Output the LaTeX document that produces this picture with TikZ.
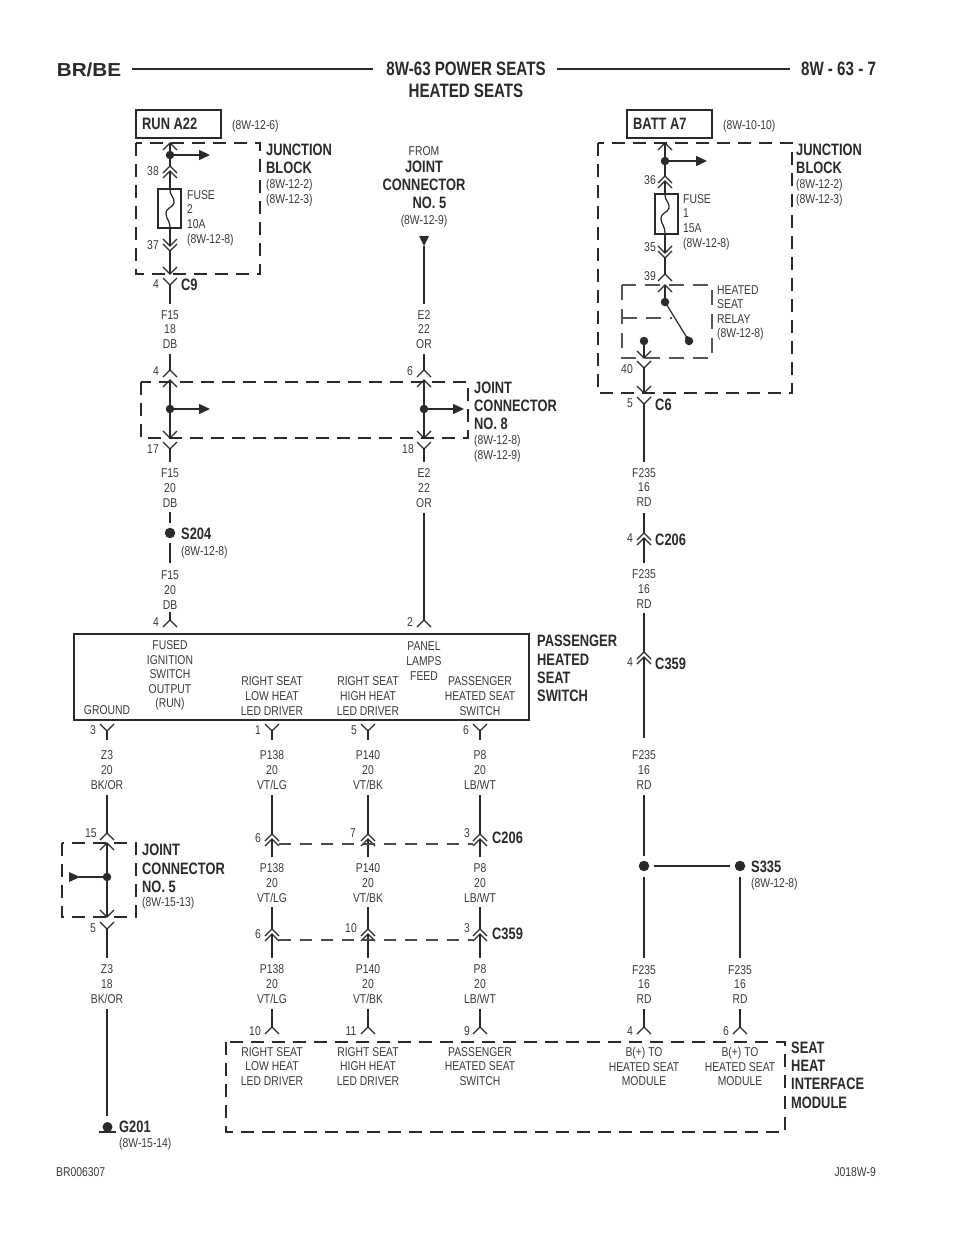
\documentclass[tikz,border=0pt]{standalone}
\usepackage{fontspec}
\usetikzlibrary{arrows.meta}
\newfontfamily\thinf[FakeStretch=.81]{Liberation Sans}
\newfontfamily\heavyf[FakeStretch=.78]{Liberation Sans}
\newfontfamily\widef[FakeStretch=1.1]{Liberation Sans}
\definecolor{ink}{HTML}{2A2A2A}
\definecolor{txt}{HTML}{3A3A3A}
\tikzset{
 wireline/.style={draw=ink,line width=1.25pt},
 lbl/.style={inner sep=0pt,align=center,text=txt,font=\thinf\fontsize{12.8}{14.6}\selectfont},
 lbll/.style={lbl,align=left,anchor=west},
 hd/.style={inner sep=0pt,align=left,anchor=west,text=ink,font=\heavyf\bfseries\fontsize{16.5}{18.3}\selectfont},
 title/.style={inner sep=0pt,align=center,text=ink,font=\heavyf\bfseries\fontsize{19.4}{22}\selectfont},
 bigbox/.style={draw=ink,line width=2.4pt},
 dashbox/.style={draw=ink,line width=2.3pt,dash pattern=on 13pt off 8pt,line cap=butt},
 relaybox/.style={draw=ink!80,line width=1.1pt,dash pattern=on 15pt off 9pt},
 linkdash/.style={draw=ink!85,line width=1.3pt,dash pattern=on 12pt off 9pt},
 headarrow/.style={wireline,-{Triangle[length=11pt,width=10pt]}},
 dot/.style={circle,fill=ink,inner sep=0pt,minimum size=8.5pt},
 bigdot/.style={circle,fill=ink,inner sep=0pt,minimum size=10.5pt},
 chevup/.pic={\draw[wireline] (-7,7)--(0,0)--(7,7);},
 chevdn/.pic={\draw[wireline] (-7,-7)--(0,0)--(7,-7);},
 dblup/.pic={\draw[wireline] (-7,7)--(0,0)--(7,7) (-7,12)--(0,5)--(7,12);},
 dbldn/.pic={\draw[wireline] (-7,-7)--(0,0)--(7,-7) (-7,-12)--(0,-5)--(7,-12);},
}
\newcommand\wirev[4]{\coordinate (#1a) at (#2,#3);\coordinate (#1b) at (#2,#4);\draw[wireline] (#1a) -- (#1b);}
\newcommand\up[2]{\pic at (#1,#2) {chevup};}
\newcommand\dn[2]{\pic at (#1,#2) {chevdn};}
\newcommand\fusewave[3]{\draw[wireline] (#1,#2) .. controls (#1,#2+8) and (#1+5,#2+8) .. (#1+4,#2+14) .. controls (#1+3,#2+19) and (#1-4,#2+18) .. (#1-4,#2+25) .. controls (#1-4,#2+30) and (#1,#2+31) .. (#1,#3);}
\begin{document}
\begin{tikzpicture}[x=1pt,y=-1pt]
\useasboundingbox (0,0) rectangle (960,1242);
% header
\node[inner sep=0pt,text=ink,font=\widef\bfseries\fontsize{18.8}{20}\selectfont] (brbe) at (89,69.5) {BR/BE};
\node[title] (ttl) at (466,80) {8W-63 POWER SEATS\\HEATED SEATS};
\node[title] (pg) at (838.5,69) {8W - 63 - 7};
\coordinate (h1a) at (132,69);\coordinate (h1b) at (373,69);
\coordinate (h2a) at (557,69);\coordinate (h2b) at (790,69);
\draw[draw=ink,line width=1.8pt] (h1a)--(h1b) (h2a)--(h2b);
% RUN A22 block
\node[bigbox,minimum width=85pt,minimum height=28pt,inner sep=0pt] (run) at (178.5,124) {};
\node[hd] (runt) at (142,124) {RUN A22};
\node[lbll] (runr) at (232,126) {(8W-12-6)};
\draw[dashbox] (136,143) rectangle (260,274);
\wirev{wa}{170}{143}{166}
\pic at (170,143) {chevup};
\node[dot] (da) at (170,155) {};
\coordinate (da2) at (210,155);
\draw[headarrow] (da.center) -- (da2);
\pic at (170,166) {dblup};
\wirev{wa2}{170}{171}{189}
\draw[draw=ink,line width=1.15pt] (158,189) rectangle (181,228);
\fusewave{170}{189}{228}
\wirev{wb}{170}{228}{246}
\pic at (170,251) {dbldn};
\wirev{wb2}{170}{251}{274}
\dn{170}{274}
\dn{170}{285}
\wirev{wc}{170}{285}{304}
\node[lbl] (n38) at (153,171) {38};
\node[lbl] (n37) at (153,245) {37};
\node[lbl] (n4a) at (156,284) {4};
\node[hd] (c9) at (181,285) {C9};
\node[lbll] (fa) at (187,218) {FUSE\\2\\10A\\(8W-12-8)};
\node[hd] (jb1) at (266,159) {JUNCTION\\BLOCK};
\node[lbll] (jb1r) at (266,192.5) {(8W-12-2)\\(8W-12-3)};
\node[lbl] (w1) at (170,329.5) {F15\\18\\DB};
% FROM
\node[lbl] (from) at (424,151) {FROM};
\node[hd,align=center,anchor=center] (jc5a) at (424,185) {JOINT\\CONNECTOR\\\ \ \ NO. 5};
\node[lbl] (from2) at (424,221) {(8W-12-9)};
\coordinate (tri) at (424,246);
\fill[ink] (419,236) -- (429,236) -- (tri) -- cycle;
\wirev{wd}{424}{246}{304}
\node[lbl] (w2) at (424,329.5) {E2\\22\\OR};
% Joint connector 8
\wirev{we}{170}{354}{370}
\wirev{wf}{424}{354}{370}
\up{170}{370} \up{424}{370}
\draw[dashbox] (141,382) rectangle (468,438);
\up{170}{380} \up{424}{380}
\wirev{we2}{170}{380}{438}
\wirev{wf2}{424}{380}{438}
\node[dot] (db) at (170,409) {};
\node[dot] (dc) at (424,409) {};
\coordinate (db2) at (210,409);\coordinate (dc2) at (464,409);
\draw[headarrow] (db.center) -- (db2);
\draw[headarrow] (dc.center) -- (dc2);
\wirev{wg}{170}{449}{462}
\wirev{wh}{424}{449}{462}
\dn{170}{438} \dn{424}{438} \dn{170}{449} \dn{424}{449}
\node[lbl] (n4b) at (156,371) {4};
\node[lbl] (n6b) at (410,371) {6};
\node[lbl] (n17) at (153,449) {17};
\node[lbl] (n18) at (408,449) {18};
\node[hd] (jc8) at (474,406) {JOINT\\CONNECTOR\\NO. 8};
\node[lbll] (jc8r) at (474,448.5) {(8W-12-8)\\(8W-12-9)};
\node[lbl] (w3) at (170,488) {F15\\20\\DB};
\node[lbl] (w4) at (424,488) {E2\\22\\OR};
\wirev{wi}{170}{512}{523}
\node[bigdot] (s204) at (170,533) {};
\wirev{wj}{170}{543}{563}
\node[hd] (s204t) at (181,534) {S204};
\node[lbll] (s204r) at (181,552) {(8W-12-8)};
\node[lbl] (w5) at (170,590) {F15\\20\\DB};
\wirev{wk}{170}{612}{620}
\wirev{wl}{424}{513}{620}
\up{170}{620} \up{424}{620}
\node[lbl] (n4c) at (156,622) {4};
\node[lbl] (n2c) at (410,622) {2};
% Passenger switch
\node[bigbox,minimum width=455pt,minimum height=86pt,inner sep=0pt] (sw) at (301.5,677) {};
\node[lbl] (s1) at (170,675.5) {FUSED\\IGNITION\\SWITCH\\OUTPUT\\(RUN)};
\node[lbl] (s2) at (424,661) {PANEL\\LAMPS\\FEED};
\node[lbl] (s3) at (272,696) {RIGHT SEAT\\LOW HEAT\\LED DRIVER};
\node[lbl] (s4) at (368,696) {RIGHT SEAT\\HIGH HEAT\\LED DRIVER};
\node[lbl] (s5) at (480,696) {PASSENGER\\HEATED SEAT\\SWITCH};
\node[lbl] (s6) at (107,710) {GROUND};
\node[hd] (sw1) at (537,668.5) {PASSENGER\\HEATED\\SEAT\\SWITCH};
\foreach \X/\N in {107/p,272/q,368/r,480/s}{
 \dn{\X}{731}
 \wirev{x\N}{\X}{731}{740}
}
\node[lbl] (n3d) at (93,730) {3};
\node[lbl] (n1d) at (258,730) {1};
\node[lbl] (n5d) at (354,730) {5};
\node[lbl] (n6d) at (466,730) {6};
\node[lbl] (l1) at (107,770) {Z3\\20\\BK/OR};
\node[lbl] (l2) at (272,770) {P138\\20\\VT/LG};
\node[lbl] (l3) at (368,770) {P140\\20\\VT/BK};
\node[lbl] (l4) at (480,770) {P8\\20\\LB/WT};
% C206 row
\foreach \X/\N in {272/q,368/r,480/s}{
 \wirev{y\N}{\X}{795}{834}
 \wirev{yy\N}{\X}{839}{857}
 \pic at (\X,834) {dblup};
 \wirev{z\N}{\X}{907}{929}
 \wirev{zz\N}{\X}{934}{958}
 \pic at (\X,929) {dblup};
 \wirev{u\N}{\X}{1009}{1027}
 \up{\X}{1027}
}
\coordinate (c206a) at (279,844);\coordinate (c206b) at (473,844);
\draw[linkdash] (c206a)--(c206b);
\coordinate (c359a) at (279,940);\coordinate (c359b) at (473,940);
\draw[linkdash] (c359a)--(c359b);
\node[lbl] (n6e) at (258,838) {6};
\node[lbl] (n7e) at (353,833) {7};
\node[lbl] (n3e) at (467,833) {3};
\node[hd] (c206t) at (492,838) {C206};
\node[lbl] (l5) at (272,883) {P138\\20\\VT/LG};
\node[lbl] (l6) at (368,883) {P140\\20\\VT/BK};
\node[lbl] (l7) at (480,883) {P8\\20\\LB/WT};
\node[lbl] (n6f) at (258,934) {6};
\node[lbl] (n10f) at (351,928) {10};
\node[lbl] (n3f) at (467,928) {3};
\node[hd] (c359t) at (492,934) {C359};
\node[lbl] (l8) at (272,984) {P138\\20\\VT/LG};
\node[lbl] (l9) at (368,984) {P140\\20\\VT/BK};
\node[lbl] (l10) at (480,984) {P8\\20\\LB/WT};
\node[lbl] (n10g) at (255,1031) {10};
\node[lbl] (n11g) at (351,1031) {11};
\node[lbl] (n9g) at (467,1031) {9};
% Joint connector 5
\wirev{ja}{107}{795}{833}
\up{107}{833}
\draw[dashbox] (62,843) rectangle (136,917);
\up{107}{843}
\wirev{ja2}{107}{843}{917}
\node[dot] (dj) at (107,877) {};
\coordinate (dj2) at (79,877);
\draw[wireline] (dj.center) -- (dj2);
\fill[ink] (69,872) -- (69,882) -- (80,877) -- cycle;
\dn{107}{917} \dn{107}{929}
\wirev{jb}{107}{929}{958}
\node[lbl] (n15) at (91,833) {15};
\node[lbl] (n5j) at (93,928) {5};
\node[hd] (jc5) at (142,868.5) {JOINT\\CONNECTOR\\NO. 5};
\node[lbll] (jc5r) at (142,903.5) {(8W-15-13)};
\node[lbl] (l11) at (107,984) {Z3\\18\\BK/OR};
\wirev{jc}{107}{1009}{1116}
\node[circle,fill=ink,inner sep=0pt,minimum size=10pt] (gd) at (107.5,1127) {};
\coordinate (ga) at (99,1132);\coordinate (gb) at (116,1132);
\draw[draw=ink,line width=2.2pt] (ga)--(gb);
\node[hd] (g201) at (119,1127) {G201};
\node[lbll] (g201r) at (119,1144) {(8W-15-14)};
% BATT block
\node[bigbox,minimum width=85pt,minimum height=28pt,inner sep=0pt] (batt) at (669.5,124) {};
\node[hd] (battt) at (633,124) {BATT A7};
\node[lbll] (battr) at (723,126) {(8W-10-10)};
\draw[dashbox] (598,143) rectangle (792,393);
\wirev{ka}{665}{143}{176}
\up{665}{143}
\node[dot] (dk) at (665,161) {};
\coordinate (dk2) at (707,161);
\draw[headarrow] (dk.center) -- (dk2);
\pic at (665,176) {dblup};
\wirev{ka2}{665}{181}{194}
\draw[draw=ink,line width=1.15pt] (655,194) rectangle (678,234);
\fusewave{665}{194}{234}
\wirev{kb}{665}{234}{253}
\pic at (665,258) {dbldn};
\wirev{kb2}{665}{258}{274}
\up{665}{274}
\draw[relaybox] (622,285) rectangle (712,358);
\coordinate (rl) at (622,318);\coordinate (rr) at (672,318);
\draw[relaybox] (rl)--(rr);
\up{665}{285}
\wirev{kc}{665}{285}{302}
\node[dot] (de) at (665,302) {};
\node[dot] (df) at (689,341) {};
\draw[wireline,-{Triangle[length=5pt,width=4pt]}] (de.center) -- (df.center);
\node[dot] (dg) at (644,341) {};
\wirev{kd}{644}{341}{358}
\dn{644}{358}
\dn{644}{368}
\wirev{ke}{644}{368}{393}
\dn{644}{393}
\dn{644}{404}
\wirev{kf}{644}{404}{462}
\node[lbl] (n36) at (650,180) {36};
\node[lbl] (n35) at (650,247) {35};
\node[lbl] (n39) at (650,276) {39};
\node[lbl] (n40) at (627,369) {40};
\node[lbl] (n5k) at (630,403) {5};
\node[hd] (c6) at (655,405) {C6};
\node[lbll] (fb) at (683,222) {FUSE\\1\\15A\\(8W-12-8)};
\node[lbll] (rel) at (717,313) {HEATED\\SEAT\\RELAY\\(8W-12-8)};
\node[hd] (jb2) at (796,159) {JUNCTION\\BLOCK};
\node[lbll] (jb2r) at (796,192.5) {(8W-12-2)\\(8W-12-3)};
% Right feed
\node[lbl] (r1) at (644,487.5) {F235\\16\\RD};
\wirev{ma}{644}{513}{533}
\pic at (644,533) {dblup};
\wirev{ma2}{644}{538}{563}
\node[lbl] (n4m) at (630,538) {4};
\node[hd] (c206r) at (655,540) {C206};
\node[lbl] (r2) at (644,589) {F235\\16\\RD};
\wirev{mb}{644}{613}{652}
\pic at (644,652) {dblup};
\wirev{mb2}{644}{657}{738}
\node[lbl] (n4n) at (630,662) {4};
\node[hd] (c359r) at (655,664) {C359};
\node[lbl] (r3) at (644,770) {F235\\16\\RD};
\wirev{mc}{644}{795}{856}
\node[bigdot] (sa) at (644,866) {};
\node[bigdot] (sb) at (740,866) {};
\draw[draw=ink,line width=2pt,shorten >=5pt,shorten <=5pt] (sa)--(sb);
\node[hd] (s335) at (751,867) {S335};
\node[lbll] (s335r) at (751,884) {(8W-12-8)};
\wirev{md}{644}{877}{958}
\wirev{me}{740}{877}{958}
\node[lbl] (r4) at (644,984.5) {F235\\16\\RD};
\node[lbl] (r5) at (740,984.5) {F235\\16\\RD};
\wirev{mf}{644}{1009}{1027}
\wirev{mg}{740}{1009}{1027}
\up{644}{1027} \up{740}{1027}
\node[lbl] (n4p) at (630,1031) {4};
\node[lbl] (n6p) at (726,1031) {6};
% Interface module
\draw[dashbox] (226,1042) rectangle (785,1132);
\node[lbl] (i1) at (272,1066.5) {RIGHT SEAT\\LOW HEAT\\LED DRIVER};
\node[lbl] (i2) at (368,1066.5) {RIGHT SEAT\\HIGH HEAT\\LED DRIVER};
\node[lbl] (i3) at (480,1066.5) {PASSENGER\\HEATED SEAT\\SWITCH};
\node[lbl] (i4) at (644,1066.5) {B(+) TO\\HEATED SEAT\\MODULE};
\node[lbl] (i5) at (740,1066.5) {B(+) TO\\HEATED SEAT\\MODULE};
\node[hd] (ih) at (791,1075) {SEAT\\HEAT\\INTERFACE\\MODULE};
% footer
\node[lbll] (f1) at (56,1172) {BR006307};
\node[lbl,anchor=east] (f2) at (876,1172) {J018W-9};
\end{tikzpicture}
\end{document}
